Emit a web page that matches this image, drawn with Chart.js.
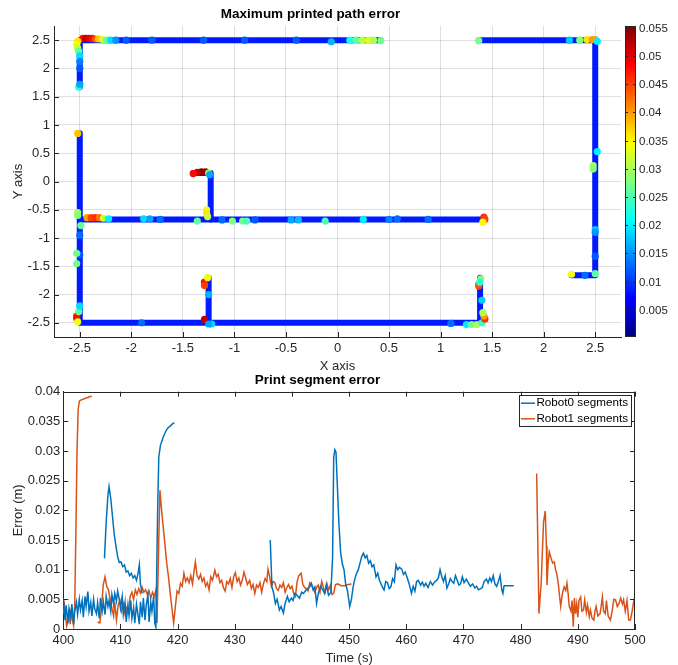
<!DOCTYPE html>
<html>
<head>
<meta charset="utf-8">
<script src="https://cdn.jsdelivr.net/npm/chart.js@4.4.1/dist/chart.umd.min.js"></script>
<style>
  html, body { margin: 0; padding: 0; background: #fff; overflow: hidden; }
  #wrap { position: relative; width: 678px; height: 665px; }
  #pathChart { position: absolute; left: 0; top: 0; }
  #segChart { position: absolute; left: 0; top: 372px; }
</style>
</head>
<body>
<div id="wrap">
  <canvas id="pathChart" width="678" height="378"></canvas>
  <canvas id="segChart" width="678" height="296"></canvas>
</div>
<script>
// ---------- top plot: printed path, coloured by max error ----------
const posTicks = [-2.5, -2, -1.5, -1, -0.5, 0, 0.5, 1, 1.5, 2, 2.5];
const cbTicks = [0.005, 0.01, 0.015, 0.02, 0.025, 0.03, 0.035, 0.04, 0.045, 0.05, 0.055];
const cbMin = 0.0002;
const cbMax = 0.0553;
const pathBaseErr = 0.0085;

// path polylines (corners of the printed track)
const pathTopLeftX = [-2.5, -2.5, 0.42];
const pathTopLeftY = [1.665, 2.5, 2.5];
const pathTopRightX = [1.37, 2.5, 2.5, 2.27];
const pathTopRightY = [2.5, 2.5, -1.66, -1.66];
const pathLowerX = [-2.5, -2.5, 1.383, 1.383];
const pathLowerY = [0.853, -2.5, -2.5, -1.7];
const pathMiddleX = [-2.5, 1.41];
const pathMiddleY = [-0.67, -0.67];
const pathHookX = [-1.4, -1.23, -1.23];
const pathHookY = [0.15, 0.15, -0.67];
const pathStubX = [-1.25, -1.25];
const pathStubY = [-2.5, -1.7];

// samples with a raised error
const spotX = [
  -2.47, -2.44, -2.41, -2.38, -2.35, -2.32, -2.28, -2.24, -2.2, -2.15,
  -2.52, -2.53, -2.52, -2.51, -2.5, -2.5, -2.5, -2.51, -2.5,
  0.12, 0.18, 0.24, 0.3, 0.35, 0.42, -0.06, -0.4, -0.9, -1.3, -1.8, -2.05,
  1.37, 2.25, 2.35, 2.42, 2.47, 2.5, 2.52,
  2.52, 2.48, 2.48, 2.5, 2.5, 2.5, 2.5, 2.4, 2.27,
  -2.52, -2.52, -2.43, -2.39, -2.35, -2.31, -2.27, -2.22, -2.49,
  -1.88, -1.82, -1.72, -1.27, -1.27, -1.26, -1.36, -1.02, -0.92, -0.88, -0.12,
  -1.12, -0.8, -0.45, -0.38, 0.25, 0.5, 0.58, 0.88,
  1.42, 1.43, 1.41,
  -1.32, -1.28, -1.36, -1.4, -1.25, -1.24,
  -2.52, -2.5, -2.5, -2.53, -2.53, -2.53, -2.53, -2.52, -2.51, -2.5,
  -1.29, -1.29, -1.26, -1.25, -1.29, -1.22, -1.25, -1.9,
  1.1, 1.25, 1.3, 1.35, 1.4, 1.43, 1.42, 1.41, 1.4, 1.37, 1.37, 1.39, 1.38
];
const spotY = [
  2.53, 2.53, 2.53, 2.53, 2.52, 2.52, 2.51, 2.5, 2.5, 2.5,
  2.48, 2.42, 2.36, 2.3, 2.22, 2.12, 2.0, 1.67, 1.72,
  2.5, 2.5, 2.5, 2.5, 2.5, 2.49, 2.47, 2.5, 2.5, 2.5, 2.5, 2.5,
  2.49, 2.5, 2.5, 2.51, 2.51, 2.51, 2.48,
  0.53, 0.28, 0.22, -0.85, -0.9, -1.32, -1.63, -1.66, -1.64,
  -0.55, -0.6, -0.64, -0.64, -0.64, -0.64, -0.65, -0.66, -0.78,
  -0.66, -0.66, -0.67, -0.5, -0.56, -0.62, -0.7, -0.7, -0.7, -0.7, -0.7,
  -0.68, -0.68, -0.68, -0.68, -0.67, -0.67, -0.66, -0.67,
  -0.63, -0.67, -0.72,
  0.17, 0.17, 0.16, 0.14, 0.15, 0.12,
  0.85, -0.95, -1.3, -1.27, -1.45, -2.38, -2.42, -2.48, -2.3, -2.2,
  -1.78, -1.84, -1.7, -2.0, -2.44, -2.52, -2.52, -2.5,
  -2.51, -2.53, -2.53, -2.53, -2.5, -2.43, -2.38, -2.32, -2.1, -1.85, -1.82, -1.72, -1.78
];
const spotErr = [
  0.048, 0.052, 0.05, 0.048, 0.044, 0.038, 0.032, 0.026, 0.019, 0.015,
  0.036, 0.034, 0.031, 0.026, 0.019, 0.014, 0.012, 0.023, 0.016,
  0.022, 0.026, 0.031, 0.033, 0.03, 0.027, 0.017, 0.012, 0.012, 0.012, 0.012, 0.012,
  0.027, 0.018, 0.028, 0.036, 0.04, 0.04, 0.02,
  0.02, 0.03, 0.028, 0.018, 0.015, 0.012, 0.026, 0.013, 0.034,
  0.03, 0.028, 0.04, 0.045, 0.046, 0.042, 0.032, 0.02, 0.026,
  0.019, 0.016, 0.013, 0.034, 0.036, 0.032, 0.026, 0.028, 0.027, 0.025, 0.025,
  0.013, 0.012, 0.016, 0.017, 0.02, 0.014, 0.013, 0.013,
  0.046, 0.045, 0.035,
  0.055, 0.054, 0.052, 0.048, 0.03, 0.016,
  0.038, 0.013, 0.012, 0.027, 0.027, 0.047, 0.048, 0.034, 0.026, 0.019,
  0.048, 0.045, 0.034, 0.017, 0.052, 0.019, 0.016, 0.013,
  0.013, 0.02, 0.027, 0.03, 0.024, 0.046, 0.04, 0.03, 0.018, 0.045, 0.044, 0.028, 0.023
];

// ---------- bottom plot: segment error over time ----------
const timeTicks = [400, 410, 420, 430, 440, 450, 460, 470, 480, 490, 500];
const errTicks = [0, 0.005, 0.01, 0.015, 0.02, 0.025, 0.03, 0.035, 0.04];

const robot0Time = [
  400.0, 400.3, 400.5, 400.8, 401.0, 401.3, 401.5, 401.8, 402.0, 402.3, 402.5, 402.8, 403.0, 403.3, 403.5, 403.8,
  404.0, 404.3, 404.5, 404.8, 405.0, 405.3, 405.5, 405.8, 406.0, 406.3, 406.5, 406.8, 407.0, 407.3, 407.5, 407.8,
  408.0, 408.3, 408.5, 408.8, 409.0, 409.3, 409.5, 409.8, 410.0, 410.3, 410.5, 410.8, 411.0, 411.3, 411.5, 411.8,
  412.0, 412.3, 412.5, 412.8, 413.0, 413.3, 413.5, 413.8, 414.0, 414.3, 414.5, 414.8, 415.0, 415.3, 415.5, 415.8,
  416.0, 416.2, 416.5, 416.7, 417.0, 417.5, 418.0, 418.4, 418.7, 419.0, 419.4, 419.5,
  407.2, 407.5, 407.8, 408.0, 408.3, 408.6, 408.9, 409.2, 409.5, 409.8, 410.1, 410.4, 410.7, 411.0, 411.3, 411.6,
  411.9, 412.2, 412.5, 412.8, 413.1, 413.3, 413.5, 413.8, 413.9,
  436.2, 436.5, 436.8, 437.1, 437.4, 437.8, 438.1, 438.5, 438.8, 439.2, 439.5, 439.9, 440.2, 440.5, 440.8, 441.3,
  441.7, 442.0, 442.5, 443.1, 443.4, 443.7, 444.0, 444.3, 444.6, 445.0, 445.4, 445.7, 446.0, 446.4, 446.8, 447.1,
  447.3, 447.5, 447.7, 447.9, 448.2, 448.5, 448.8, 449.1, 449.4, 449.7, 450.1, 450.4, 450.7, 451.0, 451.3, 451.6,
  451.9, 452.2, 452.5, 452.8, 453.1, 453.4, 453.7, 454.0, 454.3, 454.7, 455.0, 455.3, 455.8, 456.1, 456.4, 456.7,
  457.0, 457.3, 457.6, 457.9, 458.2, 458.5, 458.8, 459.2, 459.5, 459.8, 460.2, 460.5, 460.9, 461.2, 461.5, 461.8,
  462.1, 462.5, 462.8, 463.1, 463.4, 463.8, 464.2, 464.6, 464.9, 465.3, 465.6, 465.9, 466.2, 466.5, 466.8, 467.1,
  467.4, 467.7, 468.0, 468.3, 468.6, 468.9, 469.2, 469.5, 469.8, 470.1, 470.5, 470.9, 471.2, 471.6, 472.0, 472.3,
  472.6, 473.0, 473.3, 473.6, 474.0, 474.3, 474.6, 474.9, 475.2, 475.5, 475.8, 476.1, 476.4, 476.7, 476.9, 477.1,
  477.5, 478.2, 478.8
];
const robot0Err = [
  0.0052, 0.0015, 0.0040, 0.0010, 0.0035, 0.0020, 0.0042, 0.0008, 0.0030, 0.0045, 0.0025, 0.0050, 0.0032, 0.0048, 0.0020, 0.0055,
  0.0038, 0.0063, 0.0030, 0.0045, 0.0022, 0.0050, 0.0034, 0.0026, 0.0044, 0.0018, 0.0052, 0.0030, 0.0046, 0.0024, 0.0055, 0.0038,
  0.0048, 0.0030, 0.0058, 0.0042, 0.0060, 0.0047, 0.0064, 0.0050, 0.0035, 0.0055, 0.0025, 0.0045, 0.0012, 0.0040, 0.0022, 0.0048,
  0.0018, 0.0036, 0.0010, 0.0042, 0.0028, 0.0008, 0.0046, 0.0020, 0.0052, 0.0015, 0.0040, 0.0058, 0.0012, 0.0045, 0.0030, 0.0055,
  0.0010, 0.0003, 0.0200, 0.0290, 0.0310, 0.0324, 0.0335, 0.0340, 0.0342, 0.0345, 0.0348, null,
  0.0119, 0.0180, 0.0225, 0.0240, 0.0220, 0.0190, 0.0160, 0.0140, 0.0122, 0.0112, 0.0113, 0.0105, 0.0108, 0.0096, 0.0098, 0.0090,
  0.0094, 0.0086, 0.0090, 0.0082, 0.0095, 0.0108, 0.0075, 0.0060, null,
  0.0150, 0.0071, 0.0060, 0.0043, 0.0050, 0.0032, 0.0038, 0.0027, 0.0043, 0.0055, 0.0046, 0.0052, 0.0048, 0.0060, 0.0058, 0.0052,
  0.0062, 0.0060, 0.0066, 0.0071, 0.0077, 0.0066, 0.0071, 0.0043, 0.0060, 0.0072, 0.0066, 0.0060, 0.0074, 0.0057, 0.0062, 0.0120,
  0.0290, 0.0302, 0.0298, 0.0250, 0.0180, 0.0130, 0.0110, 0.0100, 0.0075, 0.0065, 0.0038, 0.0050, 0.0071, 0.0085, 0.0094, 0.0100,
  0.0111, 0.0122, 0.0128, 0.0120, 0.0124, 0.0111, 0.0115, 0.0105, 0.0108, 0.0088, 0.0094, 0.0082, 0.0071, 0.0066, 0.0080, 0.0078,
  0.0068, 0.0071, 0.0085, 0.0080, 0.0108, 0.0100, 0.0104, 0.0101, 0.0092, 0.0096, 0.0085, 0.0076, 0.0060, 0.0072, 0.0064, 0.0080,
  0.0082, 0.0074, 0.0079, 0.0072, 0.0077, 0.0070, 0.0080, 0.0074, 0.0079, 0.0082, 0.0086, 0.0100, 0.0088, 0.0080, 0.0090, 0.0069,
  0.0076, 0.0085, 0.0080, 0.0077, 0.0090, 0.0082, 0.0074, 0.0076, 0.0088, 0.0078, 0.0084, 0.0077, 0.0072, 0.0076, 0.0069, 0.0072,
  0.0066, 0.0068, 0.0070, 0.0080, 0.0084, 0.0078, 0.0086, 0.0080, 0.0090, 0.0076, 0.0072, 0.0080, 0.0090, 0.0066, 0.0060, 0.0073,
  0.0073, 0.0073, 0.0073
];

const robot1Time = [
  400.0, 400.2, 400.4, 400.6, 400.8, 401.0, 401.2, 401.4, 401.6, 401.8, 402.0, 402.2, 402.4, 402.6, 402.8, 403.1,
  403.4, 403.7, 404.0, 404.3, 404.6, 405.0, 405.5,
  406.0, 406.4, 406.7, 407.0, 407.3, 407.6, 407.9, 408.2, 408.5, 408.8, 409.0, 409.3, 409.6, 409.9, 410.2, 410.5,
  410.8, 411.1, 411.4, 411.7, 412.0, 412.3, 412.6, 412.9, 413.2, 413.5, 413.8, 414.1, 414.4, 414.7, 415.0, 415.3,
  415.6, 415.9, 416.2, 416.4, 416.7, 416.9, 417.2, 417.5, 417.8, 418.1, 418.4, 418.7, 419.0, 419.3, 419.6, 419.9,
  420.2, 420.5, 420.8, 421.1, 421.4, 421.7, 422.0, 422.3, 422.6, 422.9, 423.1, 423.4, 423.7, 424.0, 424.3, 424.6,
  424.9, 425.2, 425.5, 425.8, 426.1, 426.5, 426.8, 427.1, 427.4, 427.7, 428.0, 428.3, 428.6, 428.9, 429.2, 429.5,
  429.8, 430.1, 430.4, 430.7, 431.0, 431.3, 431.6, 431.9, 432.2, 432.6, 432.9, 433.2, 433.5, 433.8, 434.1, 434.4,
  434.7, 435.0, 435.3, 435.6, 435.8, 436.1, 436.4, 436.7, 437.0, 437.3, 437.6, 437.9, 438.2, 438.5, 438.8, 439.1,
  439.4, 439.7, 440.0, 440.3, 440.6, 440.9, 441.2, 441.6, 441.9, 442.2, 442.5, 442.8, 443.1, 443.4, 443.7, 444.0,
  444.3, 444.6, 444.9, 445.2, 445.5, 445.8, 446.1, 446.4, 446.7, 447.0, 447.3, 447.6, 448.0, 448.6, 449.2, 449.8,
  450.4, 451.0,
  482.8, 483.2, 483.6, 484.0, 484.3, 484.5, 484.6, 484.8, 485.0, 485.3, 485.6, 485.9, 486.1, 486.3, 486.6, 487.0,
  487.3, 487.6, 487.9, 488.1, 488.3, 488.5, 488.8, 489.0, 489.2, 489.4, 489.6, 489.8, 490.0, 490.2, 490.5, 490.7,
  491.0, 491.2, 491.5, 491.7, 492.0, 492.2, 492.5, 492.8, 493.0, 493.2, 493.5, 493.9, 494.1, 494.3, 494.5, 494.8,
  495.0, 495.3, 495.7, 496.0, 496.3, 496.6, 496.9, 497.2, 497.5, 497.8, 498.0, 498.3, 498.6, 498.9, 499.2, 499.5,
  499.8, 500.0
];
const robot1Err = [
  0.0025, 0.0040, 0.0020, 0.0005, 0.0012, 0.0030, 0.0008, 0.0035, 0.0015, 0.0006, 0.0040, 0.0160, 0.0300, 0.0370, 0.0384, 0.0386,
  0.0387, 0.0388, 0.0390, 0.0390, 0.0392, 0.0392, null,
  0.0012, 0.0010, 0.0040, 0.0075, 0.0088, 0.0072, 0.0066, 0.0050, 0.0035, 0.0022, 0.0045, 0.0015, 0.0040, 0.0048, 0.0030, 0.0042,
  0.0025, 0.0036, 0.0030, 0.0055, 0.0062, 0.0050, 0.0066, 0.0058, 0.0068, 0.0060, 0.0070, 0.0062, 0.0066, 0.0058, 0.0064, 0.0052,
  0.0062, 0.0055, 0.0066, 0.0010, 0.0150, 0.0234, 0.0200, 0.0170, 0.0140, 0.0110, 0.0088, 0.0060, 0.0035, 0.0010, 0.0038, 0.0064,
  0.0060, 0.0077, 0.0072, 0.0094, 0.0080, 0.0086, 0.0078, 0.0090, 0.0076, 0.0100, 0.0113, 0.0090, 0.0084, 0.0092, 0.0080, 0.0086,
  0.0072, 0.0078, 0.0066, 0.0088, 0.0082, 0.0099, 0.0088, 0.0092, 0.0078, 0.0082, 0.0070, 0.0064, 0.0080, 0.0076, 0.0085, 0.0070,
  0.0088, 0.0095, 0.0080, 0.0086, 0.0074, 0.0082, 0.0096, 0.0086, 0.0075, 0.0082, 0.0068, 0.0075, 0.0060, 0.0074, 0.0070, 0.0078,
  0.0062, 0.0076, 0.0085, 0.0080, 0.0101, 0.0088, 0.0072, 0.0080, 0.0078, 0.0068, 0.0065, 0.0074, 0.0070, 0.0078, 0.0062, 0.0070,
  0.0075, 0.0068, 0.0072, 0.0060, 0.0055, 0.0080, 0.0090, 0.0094, 0.0075, 0.0070, 0.0068, 0.0064, 0.0078, 0.0075, 0.0068, 0.0062,
  0.0070, 0.0074, 0.0062, 0.0080, 0.0070, 0.0062, 0.0077, 0.0066, 0.0073, 0.0058, 0.0060, 0.0075, 0.0076, 0.0073, 0.0073, 0.0075,
  0.0076, null,
  0.0262, 0.0026, 0.0080, 0.0180, 0.0199, 0.0140, 0.0074, 0.0110, 0.0130, 0.0120, 0.0111, 0.0113, 0.0100, 0.0094, 0.0075, 0.0038,
  0.0060, 0.0071, 0.0065, 0.0077, 0.0060, 0.0038, 0.0030, 0.0048, 0.0004, 0.0052, 0.0026, 0.0042, 0.0020, 0.0048, 0.0054, 0.0030,
  0.0032, 0.0049, 0.0028, 0.0040, 0.0021, 0.0032, 0.0018, 0.0015, 0.0030, 0.0038, 0.0022, 0.0026, 0.0040, 0.0054, 0.0030, 0.0026,
  0.0048, 0.0022, 0.0015, 0.0030, 0.0050, 0.0049, 0.0038, 0.0043, 0.0052, 0.0042, 0.0049, 0.0030, 0.0048, 0.0015, 0.0015, 0.0030,
  0.0048, 0.0055
];

// MATLAB jet colour for an error value
function jet(v) {
  let t = (v - cbMin) / (cbMax - cbMin);
  t = Math.min(1, Math.max(0, t));
  const c = x => Math.round(255 * Math.min(1, Math.max(0, 1.5 - Math.abs(x))));
  return 'rgb(' + c(4 * t - 3) + ',' + c(4 * t - 2) + ',' + c(4 * t - 1) + ')';
}

function toPoints(xs, ys) {
  return xs.map((x, i) => ({ x: x, y: ys[i] }));
}

function fmt(v) {
  return String(+v.toFixed(4));
}

const axisColor = '#262626';
const fontFamily = "'Liberation Sans', Arial, Helvetica, sans-serif";

// inward tick marks (and optional top/right box), drawn after the chart
const inwardTicks = {
  id: 'inwardTicks',
  afterDraw(chart, args, opts) {
    const ctx = chart.ctx;
    const a = chart.chartArea;
    const sx = chart.scales.x, sy = chart.scales.y;
    ctx.save();
    ctx.strokeStyle = axisColor;
    ctx.lineWidth = 1;
    ctx.beginPath();
    sx.ticks.forEach(t => {
      const px = Math.round(sx.getPixelForValue(t.value)) + 0.5;
      ctx.moveTo(px, a.bottom); ctx.lineTo(px, a.bottom - 5);
      if (opts.box) { ctx.moveTo(px, a.top); ctx.lineTo(px, a.top + 5); }
    });
    sy.ticks.forEach(t => {
      const py = Math.round(sy.getPixelForValue(t.value)) + 0.5;
      ctx.moveTo(a.left, py); ctx.lineTo(a.left + 5, py);
      if (opts.box) { ctx.moveTo(a.right, py); ctx.lineTo(a.right - 5, py); }
    });
    if (opts.box) {
      ctx.moveTo(a.left, Math.round(a.top) + 0.5); ctx.lineTo(a.right, Math.round(a.top) + 0.5);
      ctx.moveTo(Math.round(a.right) - 0.5, a.top); ctx.lineTo(Math.round(a.right) - 0.5, a.bottom);
    }
    ctx.stroke();
    ctx.restore();
  }
};

// colour bar on the right of the path plot
const colorBar = {
  id: 'colorBar',
  afterDraw(chart) {
    const ctx = chart.ctx;
    const a = chart.chartArea;
    const x0 = a.right + 4, w = 11;
    const top = a.top, h = a.bottom - a.top;
    ctx.save();
    for (let i = 0; i < h; i++) {
      ctx.fillStyle = jet(cbMax - (i + 0.5) / h * (cbMax - cbMin));
      ctx.fillRect(x0, top + i, w, 1);
    }
    ctx.strokeStyle = axisColor;
    ctx.lineWidth = 1;
    ctx.strokeRect(x0 + 0.5, top + 0.5, w - 1, h - 1);
    ctx.fillStyle = axisColor;
    ctx.font = '11.5px ' + fontFamily;
    ctx.textAlign = 'left';
    ctx.textBaseline = 'middle';
    ctx.beginPath();
    cbTicks.forEach(v => {
      const py = Math.round(a.bottom - (v - cbMin) / (cbMax - cbMin) * h) + 0.5;
      ctx.moveTo(x0 + w - 3, py); ctx.lineTo(x0 + w, py);
      ctx.moveTo(x0, py); ctx.lineTo(x0 + 3, py);
      ctx.fillText(fmt(v), x0 + w + 3, py);
    });
    ctx.stroke();
    ctx.restore();
  }
};

// MATLAB style legend box in the top right corner
const boxLegend = {
  id: 'boxLegend',
  afterDraw(chart) {
    const ctx = chart.ctx;
    const a = chart.chartArea;
    const sets = chart.data.datasets;
    ctx.save();
    ctx.font = '11.7px ' + fontFamily;
    const textW = Math.max(...sets.map(d => ctx.measureText(d.label).width));
    const right = a.right - 4, top = a.top + 3.5;
    const boxW = 17.5 + textW + 3, rowH = 15.6;
    const left = right - boxW;
    ctx.fillStyle = '#fff';
    ctx.fillRect(left, top, boxW, rowH * sets.length + 0.5);
    ctx.strokeStyle = axisColor;
    ctx.lineWidth = 1;
    ctx.strokeRect(Math.round(left) + 0.5, Math.round(top) + 0.5, Math.round(boxW), Math.round(rowH * sets.length));
    sets.forEach((d, i) => {
      const cy = top + 8 + i * rowH;
      ctx.strokeStyle = d.borderColor;
      ctx.lineWidth = 1.5;
      ctx.beginPath();
      ctx.moveTo(left + 2, cy); ctx.lineTo(left + 16, cy);
      ctx.stroke();
      ctx.fillStyle = '#000';
      ctx.textAlign = 'left';
      ctx.textBaseline = 'middle';
      ctx.fillText(d.label, left + 17.5, cy);
    });
    ctx.restore();
  }
};

const pathLines = [
  [pathTopLeftX, pathTopLeftY],
  [pathTopRightX, pathTopRightY],
  [pathLowerX, pathLowerY],
  [pathMiddleX, pathMiddleY],
  [pathHookX, pathHookY],
  [pathStubX, pathStubY]
].map(p => ({
  data: toPoints(p[0], p[1]),
  showLine: true,
  pointRadius: 0,
  borderWidth: 6,
  borderColor: jet(pathBaseErr),
  borderCapStyle: 'round',
  borderJoinStyle: 'round',
  order: 1
}));

new Chart(document.getElementById('pathChart'), {
  type: 'scatter',
  data: {
    datasets: pathLines.concat([{
      data: toPoints(spotX, spotY),
      pointRadius: 3.6,
      pointBorderWidth: 0,
      pointBackgroundColor: spotErr.map(jet),
      order: 0
    }])
  },
  options: {
    responsive: false,
    animation: false,
    layout: { padding: { left: 0, right: 57, top: 0, bottom: 0 } },
    plugins: {
      legend: { display: false },
      tooltip: { enabled: false },
      title: {
        display: true,
        text: 'Maximum printed path error',
        color: '#000',
        font: { family: fontFamily, size: 13.5, weight: 'bold' },
        padding: { top: 6, bottom: 3.8 }
      }
    },
    scales: {
      x: {
        type: 'linear', min: -2.75, max: 2.75,
        afterBuildTicks: s => { s.ticks = posTicks.map(v => ({ value: v })); },
        afterFit: s => { s.height = 41; },
        grid: { color: 'rgba(38,38,38,0.15)', drawTicks: false },
        border: { display: true, color: axisColor, width: 1 },
        ticks: { color: axisColor, padding: 4, maxRotation: 0, font: { family: fontFamily, size: 13 }, callback: fmt },
        title: { display: true, text: 'X axis', color: axisColor, font: { family: fontFamily, size: 13 }, padding: { top: 0, bottom: 3.5 } }
      },
      y: {
        type: 'linear', min: -2.75, max: 2.75,
        afterBuildTicks: s => { s.ticks = posTicks.map(v => ({ value: v })); },
        afterFit: s => { s.width = 54; },
        grid: { color: 'rgba(38,38,38,0.15)', drawTicks: false },
        border: { display: true, color: axisColor, width: 1 },
        ticks: { color: axisColor, padding: 4, font: { family: fontFamily, size: 13 }, callback: fmt },
        title: { display: true, text: 'Y axis', color: axisColor, font: { family: fontFamily, size: 13 }, padding: { top: 11, bottom: 0 } }
      }
    }
  },
  plugins: [inwardTicks, colorBar]
});

new Chart(document.getElementById('segChart'), {
  type: 'line',
  data: {
    datasets: [
      {
        label: 'Robot0 segments',
        data: toPoints(robot0Time, robot0Err),
        borderColor: '#0072BD',
        borderWidth: 1.5,
        pointRadius: 0,
        tension: 0,
        spanGaps: false
      },
      {
        label: 'Robot1 segments',
        data: toPoints(robot1Time, robot1Err),
        borderColor: '#D95319',
        borderWidth: 1.5,
        pointRadius: 0,
        tension: 0,
        spanGaps: false
      }
    ]
  },
  options: {
    responsive: false,
    animation: false,
    layout: { padding: { left: 0, right: 43, top: 0, bottom: 0 } },
    plugins: {
      legend: { display: false },
      tooltip: { enabled: false },
      title: {
        display: true,
        text: 'Print segment error',
        color: '#000',
        font: { family: fontFamily, size: 13.5, weight: 'bold' },
        padding: { top: 0, bottom: 3.5 }
      },
      inwardTicks: { box: true }
    },
    scales: {
      x: {
        type: 'linear', min: 400, max: 500,
        afterBuildTicks: s => { s.ticks = timeTicks.map(v => ({ value: v })); },
        afterFit: s => { s.height = 39; },
        grid: { display: false, drawTicks: false },
        border: { display: true, color: axisColor, width: 1 },
        ticks: { color: axisColor, padding: 3.7, maxRotation: 0, font: { family: fontFamily, size: 13 }, callback: fmt },
        title: { display: true, text: 'Time (s)', color: axisColor, font: { family: fontFamily, size: 13 }, padding: { top: 0, bottom: 2.2 } }
      },
      y: {
        type: 'linear', min: 0, max: 0.04,
        afterBuildTicks: s => { s.ticks = errTicks.map(v => ({ value: v })); },
        afterFit: s => { s.width = 63.3; },
        grid: { display: false, drawTicks: false },
        border: { display: true, color: axisColor, width: 1 },
        ticks: { color: axisColor, padding: 3, font: { family: fontFamily, size: 13 }, callback: fmt },
        title: { display: true, text: 'Error (m)', color: axisColor, font: { family: fontFamily, size: 13 }, padding: { top: 10.7, bottom: 0 } }
      }
    }
  },
  plugins: [inwardTicks, boxLegend]
});
</script>
</body>
</html>
